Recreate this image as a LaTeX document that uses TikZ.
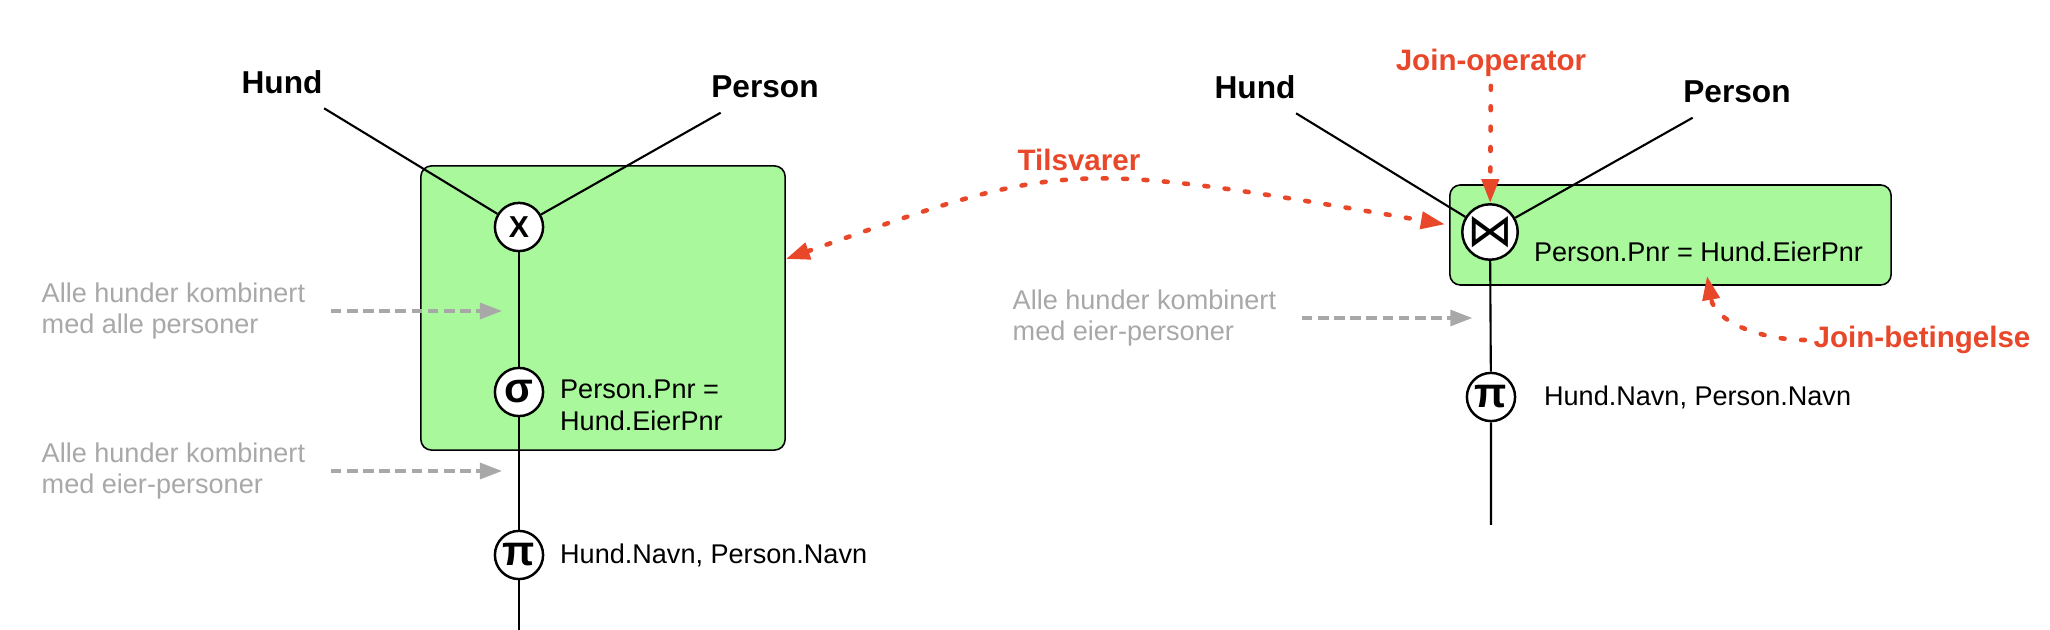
\documentclass[tikz,border=0pt]{standalone}
\usepackage{fontspec}
\setmainfont{Liberation Sans}
\newfontfamily\symfont{DejaVu Sans}
\usepackage{tikz}
\usetikzlibrary{arrows.meta,positioning}
\definecolor{boxgreen}{HTML}{A9F89B}
\definecolor{notegray}{HTML}{A8A8A8}
\definecolor{callred}{HTML}{E9472A}

\tikzset{
  opnode/.style={circle, draw, line width=0.7pt, fill=white, minimum size=13.7pt, inner sep=0pt},
  opsym/.style={font=\fontsize{12}{14}\selectfont\bfseries},
  relname/.style={font=\fontsize{9}{11}\selectfont\bfseries, inner sep=0pt},
  plain/.style={font=\fontsize{7.7}{9}\selectfont, align=left, inner sep=0pt},
  note/.style={plain, text=notegray},
  callout/.style={font=\fontsize{8.4}{10}\selectfont\bfseries, text=callred, inner sep=0pt},
  edge/.style={line width=0.6pt},
  grouping/.style={draw, line width=0.45pt, fill=boxgreen, rounded corners=3pt},
  graytip/.tip={Triangle[length=6.3pt,width=4.5pt]},
  redtip/.tip={Triangle[length=6.8pt,width=4.8pt]},
  notearrow/.style={color=notegray, line width=1.05pt, dash pattern=on 3pt off 1.6pt, -graytip},
  redarrow/.style={color=callred, line width=1.3pt, line cap=round, dash pattern=on 1.1pt off 4.7pt, -redtip},
}

\begin{document}
\begin{tikzpicture}[x=0.01cm, y=0.01cm]
  \useasboundingbox (0,0) rectangle (2050,630);

  % venstre: kryssprodukt og seleksjon
  \node[grouping, minimum width=3.64cm, minimum height=2.84cm] (box1) at (603,322) {};
  \node[relname] (hund1) at (282,548) {Hund};
  \node[relname] (person1) at (765,543) {Person};
  \node[opnode, font=\fontsize{8.6}{10}\selectfont\bfseries] (cross) at (519,403) {X};
  \node[opnode, opsym] (sigma) at (519,238) {σ};
  \node[opnode, opsym] (pi1) at (519,75) {π};
  \coordinate (end1) at (519,0);
  \node[plain, right=4.3pt of sigma, yshift=-3.7pt] (cond1) {Person.Pnr =\\Hund.EierPnr};
  \node[plain, right=4.3pt of pi1] (proj1) {Hund.Navn, Person.Navn};

  \draw[edge] ([shift={(1,-14)}]hund1.south east) -- (cross);
  \draw[edge] ([shift={(10,-14)}]person1.south west) -- (cross);
  \draw[edge] (cross) -- (sigma) -- (pi1) -- (end1);

  \node[note, anchor=west] (note1) at (41,319) {Alle hunder kombinert\\med alle personer};
  \node[note, anchor=west] (note2) at (41,159) {Alle hunder kombinert\\med eier-personer};
  \draw[notearrow, shorten <=7.1pt, shorten >=4.8pt] (note1.east) -- (note1.east -| cross);
  \draw[notearrow, shorten <=7.1pt, shorten >=4.8pt] (note2.east) -- (note2.east -| cross);

  % hoyre: join
  \node[grouping, minimum width=4.41cm, minimum height=1cm] (box2) at (1670.5,395) {};
  \node[relname] (hund2) at (1255,543) {Hund};
  \node[relname] (person2) at (1737,538) {Person};
  \node[opnode, font=\symfont\fontsize{13}{14}\selectfont] (join) at (1490,398) {⋈};
  \node[opnode, opsym] (pi2) at (1491,233) {π};
  \coordinate (end2) at (1491,105);
  \node[plain, right=4.1pt of join, yshift=-5.7pt] (cond2) {Person.Pnr = Hund.EierPnr};
  \node[plain, right=7.7pt of pi2] (proj2) {Hund.Navn, Person.Navn};

  \draw[edge] ([shift={(0,-14)}]hund2.south east) -- (join);
  \draw[edge] ([shift={(10,-14)}]person2.south west) -- (join);
  \draw[edge] (join) -- (pi2) -- (end2);

  \node[note, anchor=west] (note3) at (1012,312) {Alle hunder kombinert\\med eier-personer};
  \draw[notearrow, shorten <=7.1pt, shorten >=5pt] (note3.east) -- (note3.east -| join);

  % forklaringer
  \node[callout] (tilsvarer) at (1079,470) {Tilsvarer};
  \node[callout] (joinop) at (1491,567) {Join-operator};
  \node[callout, anchor=west] (joinbet) at (1813,290) {Join-betingelse};
  \coordinate (condtip) at (1707,354);

  \draw[redarrow, redtip-redtip, shorten >=4.8pt] (box1.15) .. controls (1066,470) .. (join);
  \draw[redarrow, shorten <=2.4pt] (joinop) -- (join);
  \draw[redarrow, shorten <=2.3pt] (joinbet.west) to[out=180, in=-80] (condtip);
\end{tikzpicture}
\end{document}
